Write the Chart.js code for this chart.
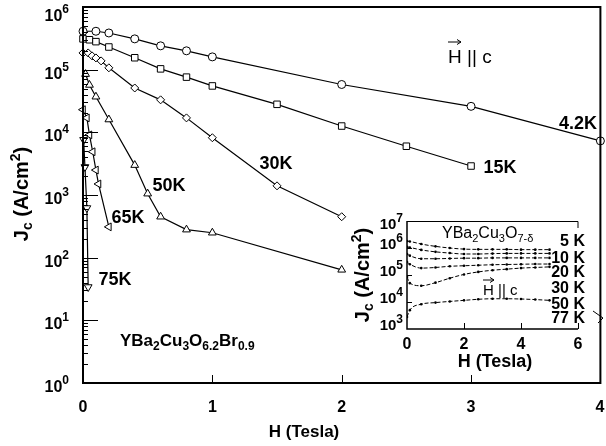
<!DOCTYPE html>
<html>
<head>
<meta charset="utf-8">
<script src="https://cdn.jsdelivr.net/npm/chart.js@4.4.1/dist/chart.umd.min.js"></script>
<style>
  body { margin: 0; background: #fff; }
  #wrap { position: relative; width: 606px; height: 446px; }
  #wrap canvas { position: absolute; left: 0; top: 0; }
  #insetChart { pointer-events: none; }
</style>
</head>
<body>
<div id="wrap">
  <canvas id="mainChart" width="606" height="446"></canvas>
  <canvas id="insetChart" width="606" height="446"></canvas>
</div>
<script>
// ---- main plot data: H (Tesla) vs Jc (A/cm2), YBa2Cu3O6.2Br0.9 ----
const field42 = [0, 0.1, 0.2, 0.4, 0.6, 0.8, 1, 2, 3, 4];
const jc42 = [4.1e5, 4.1e5, 3.85e5, 3.1e5, 2.4e5, 2.0e5, 1.6e5, 5.8e4, 2.6e4, 7.3e3];

const field15 = [0, 0.05, 0.1, 0.2, 0.4, 0.6, 0.8, 1, 1.5, 2, 2.5, 3];
const jc15 = [3.1e5, 3.0e5, 2.8e5, 2.3e5, 1.55e5, 1.03e5, 7.6e4, 5.5e4, 2.8e4, 1.26e4, 6.0e3, 2.9e3];

const field30 = [0, 0.04, 0.07, 0.1, 0.14, 0.2, 0.4, 0.6, 0.8, 1, 1.5, 2];
const jc30 = [1.85e5, 1.85e5, 1.66e5, 1.54e5, 1.38e5, 1.07e5, 5.1e4, 3.3e4, 1.7e4, 8.2e3, 1.4e3, 450];

const field50 = [0.02, 0.05, 0.1, 0.2, 0.4, 0.5, 0.6, 0.8, 1, 2];
const jc50 = [8.5e4, 5.7e4, 3.7e4, 1.6e4, 3.0e3, 1.05e3, 450, 280, 250, 64];

const field65 = [0, 0.03, 0.05, 0.075, 0.1, 0.12, 0.2];
const jc65 = [2.3e4, 1.7e4, 9.1e3, 4.9e3, 2.5e3, 1.5e3, 310];

const field75 = [0.005, 0.015, 0.03, 0.04];
const jc75 = [7.6e3, 2.8e3, 620, 34];

const xTicks = [0, 1, 2, 3, 4];
const yTicks = [1, 10, 100, 1e3, 1e4, 1e5, 1e6];

// ---- inset data: YBa2Cu3O7-d ----
const insetField = [0, 0.1, 0.5, 1, 1.5, 2, 2.5, 3, 3.5, 4, 4.5, 5];
const inset5K = [1.8e6, 1.75e6, 1.4e6, 1.15e6, 1.0e6, 9.1e5, 8.9e5, 8.9e5, 8.9e5, 8.7e5, 8.7e5, 8.7e5];
const inset10K = [1.1e6, 1.05e6, 8.5e5, 7.2e5, 6.5e5, 6.0e5, 6.0e5, 6.2e5, 6.3e5, 6.3e5, 6.3e5, 6.3e5];
const inset20K = [6.0e5, 5.2e5, 4.0e5, 4.0e5, 4.1e5, 4.2e5, 4.2e5, 4.3e5, 4.3e5, 4.3e5, 4.3e5, 4.3e5];
const inset30K = [3.0e5, 2.5e5, 1.8e5, 1.9e5, 2.1e5, 2.2e5, 2.3e5, 2.4e5, 2.45e5, 2.5e5, 2.55e5, 2.55e5];
const inset50K = [8.5e4, 5.0e4, 4.0e4, 5.2e4, 7.6e4, 1.05e5, 1.3e5, 1.5e5, 1.65e5, 1.8e5, 1.9e5, 2.0e5];
const inset77K = [2.8e3, 5.0e3, 8.3e3, 9.5e3, 1.05e4, 1.15e4, 1.26e4, 1.32e4, 1.32e4, 1.29e4, 1.23e4, 1.15e4];
const insetXTicks = [0, 2, 4, 6];
const insetYTicks = [1e3, 1e4, 1e5, 1e6, 1e7];

const FONT = '"Liberation Sans", Arial, Helvetica, sans-serif';

function pts(xs, ys) {
  return xs.map((v, i) => ({ x: v, y: ys[i] }));
}

function setFont(ctx, size, bold) {
  ctx.font = (bold ? 'bold ' : '') + size + 'px ' + FONT;
}

// parts: [text, size, dy]
function rich(ctx, parts, x, y, align, bold) {
  let w = 0;
  for (const p of parts) { setFont(ctx, p[1], bold); w += ctx.measureText(p[0]).width; }
  let cx = align === 'center' ? x - w / 2 : align === 'right' ? x - w : x;
  for (const p of parts) {
    setFont(ctx, p[1], bold);
    ctx.fillText(p[0], cx, y + (p[2] || 0));
    cx += ctx.measureText(p[0]).width;
  }
}

function vecArrow(ctx, x0, x1, y) {
  ctx.beginPath();
  ctx.moveTo(x0, y); ctx.lineTo(x1, y);
  ctx.moveTo(x1 - 4, y - 2.5); ctx.lineTo(x1, y); ctx.lineTo(x1 - 4, y + 2.5);
  ctx.stroke();
}

function mainLine(label, xs, ys, style, radius, rotation) {
  return {
    label: label,
    data: pts(xs, ys),
    borderColor: '#000',
    borderWidth: 1.2,
    pointStyle: style,
    pointRadius: radius,
    pointRotation: rotation || 0,
    pointBackgroundColor: '#fff',
    pointBorderColor: '#000',
    pointBorderWidth: 1,
    tension: 0,
    clip: false
  };
}

const mainDecor = {
  id: 'mainDecor',
  afterDatasetsDraw(chart) {
    const { ctx, chartArea: a, scales: { x, y } } = chart;
    ctx.save();
    ctx.strokeStyle = '#000';
    ctx.lineWidth = 2;
    ctx.strokeRect(a.left, a.top, a.right - a.left, a.bottom - a.top);
    ctx.lineWidth = 1;
    ctx.beginPath();
    yTicks.forEach(v => {
      if (v <= 1 || v >= 1e6) return;
      const py = Math.round(y.getPixelForValue(v)) + 0.5;
      ctx.moveTo(a.left, py); ctx.lineTo(a.left + 15, py);
    });
    for (let d = 0; d < 6; d++) {
      for (let m = 2; m < 10; m++) {
        const py = Math.round(y.getPixelForValue(m * Math.pow(10, d))) + 0.5;
        ctx.moveTo(a.left, py); ctx.lineTo(a.left + 5, py);
      }
    }
    xTicks.forEach(v => {
      if (v <= 0 || v >= 4) return;
      const px = Math.round(x.getPixelForValue(v)) + 0.5;
      ctx.moveTo(px, a.bottom); ctx.lineTo(px, a.bottom - 8);
    });
    // break mark on the right edge
    ctx.moveTo(593, 311); ctx.lineTo(603, 318); ctx.lineTo(598, 323);
    ctx.stroke();
    ctx.restore();
  },
  afterDraw(chart) {
    const { ctx, chartArea: a, scales: { x, y } } = chart;
    ctx.save();
    ctx.fillStyle = '#000';
    ctx.strokeStyle = '#000';
    ctx.textBaseline = 'alphabetic';

    // y tick labels 10^n
    yTicks.forEach(v => {
      const n = Math.round(Math.log10(v));
      const cy = Math.max(y.getPixelForValue(v) + 3, 15);
      rich(ctx, [['10', 16, 0], [String(n), 12, -8]], 69, cy + 6, 'right', true);
    });
    // x tick labels
    setFont(ctx, 16, true);
    ctx.textAlign = 'center';
    xTicks.forEach(v => {
      const px = Math.min(x.getPixelForValue(v), 600);
      ctx.fillText(String(v), px, 412);
    });
    ctx.textAlign = 'left';

    // axis titles
    rich(ctx, [['H (Tesla)', 17]], 304, 437, 'center', true);
    ctx.save();
    ctx.translate(28, 194);
    ctx.rotate(-Math.PI / 2);
    rich(ctx, [['J', 20, 0], ['c', 14, 4], [' (A/cm', 20, 0], ['2', 14, -8], [')', 20, 0]], 0, 0, 'center', true);
    ctx.restore();

    // curve labels
    const curveLabels = [['4.2K', 578, 122], ['15K', 500, 166], ['30K', 276, 162],
                         ['50K', 169, 184], ['65K', 128, 216], ['75K', 115, 278]];
    curveLabels.forEach(l => rich(ctx, [[l[0], 18]], l[1], l[2] + 6.5, 'center', true));

    // compound
    rich(ctx, [['YBa', 17, 0], ['2', 12, 4], ['Cu', 17, 0], ['3', 12, 4], ['O', 17, 0],
               ['6.2', 12, 4], ['Br', 17, 0], ['0.9', 12, 4]], 120, 346, 'left', true);

    // H || c
    rich(ctx, [['H || c', 19]], 448, 63, 'left', false);
    ctx.lineWidth = 1;
    vecArrow(ctx, 448, 461, 42);
    ctx.restore();
  }
};

new Chart(document.getElementById('mainChart'), {
  type: 'line',
  data: {
    datasets: [
      mainLine('4.2K', field42, jc42, 'circle', 4),
      mainLine('15K', field15, jc15, 'rect', 4.6),
      mainLine('30K', field30, jc30, 'rectRot', 4),
      mainLine('50K', field50, jc50, 'triangle', 4.5),
      mainLine('65K', field65, jc65, 'triangle', 4.5, 270),
      mainLine('75K', field75, jc75, 'triangle', 4.5, 180)
    ]
  },
  options: {
    responsive: false,
    animation: false,
    layout: { padding: { left: 83, top: 7, right: 1, bottom: 63 } },
    scales: {
      x: { type: 'linear', min: 0, max: 4, display: false },
      y: { type: 'logarithmic', min: 1, max: 1e6, display: false }
    },
    plugins: { legend: { display: false }, tooltip: { enabled: false } }
  },
  plugins: [mainDecor]
});

// ---- inset ----
function insetLine(label, ys) {
  return {
    label: label,
    data: pts(insetField, ys),
    borderColor: '#000',
    borderWidth: 1,
    borderDash: [4, 2],
    pointRadius: 1.3,
    pointBackgroundColor: '#000',
    pointBorderWidth: 0,
    tension: 0.4,
    cubicInterpolationMode: 'monotone'
  };
}

const insetDecor = {
  id: 'insetDecor',
  afterDatasetsDraw(chart) {
    const { ctx, chartArea: a, scales: { x, y } } = chart;
    ctx.save();
    ctx.strokeStyle = '#000';
    ctx.lineWidth = 1.5;
    ctx.beginPath();
    ctx.moveTo(a.left, a.top); ctx.lineTo(a.left, a.bottom); ctx.lineTo(a.right, a.bottom);
    ctx.stroke();
    ctx.lineWidth = 1;
    ctx.beginPath();
    ctx.moveTo(a.left, a.top + 0.5); ctx.lineTo(a.right, a.top + 0.5); ctx.lineTo(a.right, a.top + 7);
    insetYTicks.forEach(v => {
      if (v <= 1e3 || v >= 1e7) return;
      const py = Math.round(y.getPixelForValue(v)) + 0.5;
      ctx.moveTo(a.left, py); ctx.lineTo(a.left + 5, py);
    });
    insetXTicks.forEach(v => {
      if (v <= 0) return;
      const px = Math.round(x.getPixelForValue(v)) + 0.5;
      ctx.moveTo(px, a.bottom); ctx.lineTo(px, a.bottom - 6);
    });
    ctx.stroke();
    ctx.restore();
  },
  afterDraw(chart) {
    const { ctx, scales: { x, y } } = chart;
    ctx.save();
    ctx.fillStyle = '#000';
    ctx.strokeStyle = '#000';
    insetYTicks.forEach(v => {
      const n = Math.round(Math.log10(v));
      const cy = Math.max(y.getPixelForValue(v) - 5, 223);
      rich(ctx, [['10', 15, 0], [String(n), 12, -7]], 403, cy + 5.5, 'right', true);
    });
    setFont(ctx, 16, true);
    ctx.textAlign = 'center';
    insetXTicks.forEach(v => ctx.fillText(String(v), x.getPixelForValue(v), 349));
    ctx.textAlign = 'left';

    rich(ctx, [['H (Tesla)', 18]], 495, 367, 'center', true);
    ctx.save();
    ctx.translate(369, 275);
    ctx.rotate(-Math.PI / 2);
    rich(ctx, [['J', 20, 0], ['c', 14, 4], [' (A/cm', 20, 0], ['2', 14, -8], [')', 20, 0]], 0, 0, 'center', true);
    ctx.restore();

    const tempLabels = [['5 K', 240], ['10 K', 257], ['20 K', 271], ['30 K', 287], ['50 K', 303], ['77 K', 317]];
    tempLabels.forEach(l => rich(ctx, [[l[0], 16]], 585, l[1] + 6, 'right', true));

    rich(ctx, [['YBa', 16, 0], ['2', 11, 4], ['Cu', 16, 0], ['3', 11, 4], ['O', 16, 0], ['7-\u03b4', 11, 4]],
         442, 238, 'left', false);
    rich(ctx, [['H || c', 15]], 483, 295, 'left', false);
    ctx.lineWidth = 1;
    vecArrow(ctx, 483, 494, 280);
    ctx.restore();
  }
};

new Chart(document.getElementById('insetChart'), {
  type: 'line',
  data: {
    datasets: [
      insetLine('5 K', inset5K),
      insetLine('10 K', inset10K),
      insetLine('20 K', inset20K),
      insetLine('30 K', inset30K),
      insetLine('50 K', inset50K),
      insetLine('77 K', inset77K)
    ]
  },
  options: {
    responsive: false,
    animation: false,
    layout: { padding: { left: 407, top: 221, right: 28, bottom: 117 } },
    scales: {
      x: { type: 'linear', min: 0, max: 6, display: false },
      y: { type: 'logarithmic', min: 1e3, max: 1e7, display: false }
    },
    plugins: { legend: { display: false }, tooltip: { enabled: false } }
  },
  plugins: [insetDecor]
});
</script>
</body>
</html>
